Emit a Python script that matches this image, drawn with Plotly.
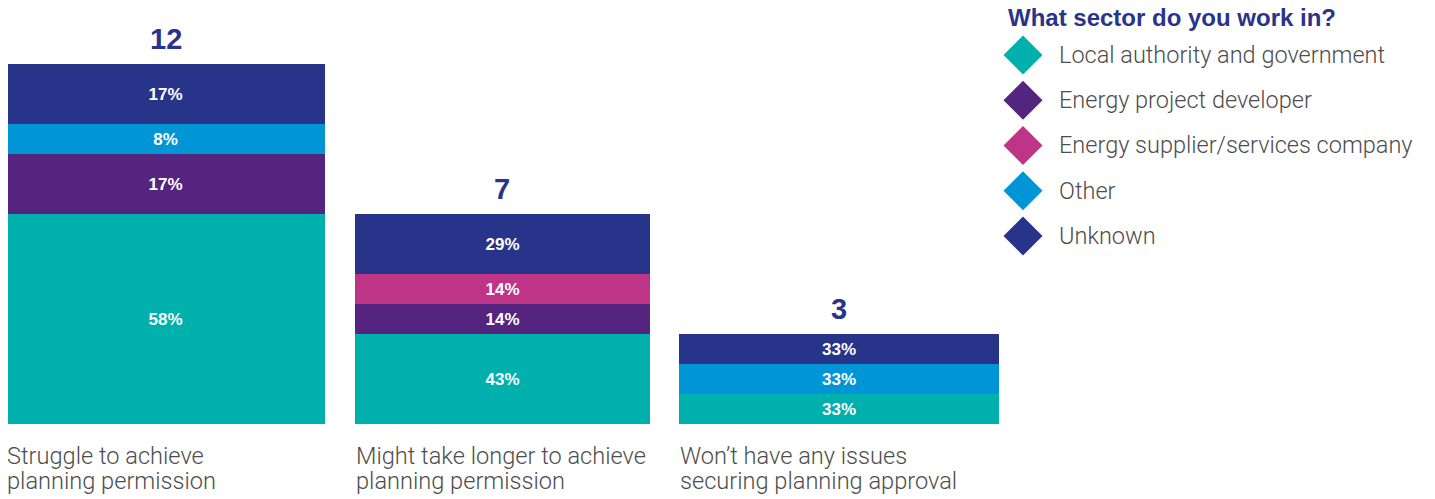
"""Stacked bars: planning permission outlook by sector."""

import plotly.graph_objects as go

# page body has an 8px margin, so the figure is drawn 8px in from the corner
OFF = 8
W, H = 1435 - OFF, 499 - OFF

categories = [
    "Struggle to achieve<br>planning permission",
    "Might take longer to achieve<br>planning permission",
    "Won’t have any issues<br>securing planning approval",
]
sectors = [
    "Local authority and government",
    "Energy project developer",
    "Energy supplier/services company",
    "Other",
    "Unknown",
]
counts = {
    "Local authority and government": [7, 3, 1],
    "Energy project developer": [2, 1, 0],
    "Energy supplier/services company": [0, 1, 0],
    "Other": [1, 0, 1],
    "Unknown": [2, 2, 1],
}
colors = {
    "Local authority and government": "#00B0AD",
    "Energy project developer": "#55247F",
    "Energy supplier/services company": "#BE3588",
    "Other": "#0096D6",
    "Unknown": "#28348A",
}
bar_widths = [0.947, 0.876, 0.95]

NAVY = "#28348A"
GREY = "#4D4D4D"
LIGHT = "Roboto, 'Liberation Sans', Arial, sans-serif"
BOLD = "'Liberation Sans', Arial, sans-serif"

# category axis: first bar centred at x=165.5 px, 336.75 px per category
X0, UNIT = 165.5, 336.75


def px(x):
    """screen x (px) -> paper"""
    return (x - OFF) / W


def py(y):
    """screen y (px, from top) -> paper"""
    return (H - (y - OFF)) / H


totals = [sum(counts[s][i] for s in sectors) for i in range(len(categories))]
xs = list(range(len(categories)))

fig = go.Figure()
for s in sectors:
    vals = counts[s]
    labels = [f"{round(100 * v / t)}%" if v else "" for v, t in zip(vals, totals)]
    fig.add_trace(
        go.Bar(
            x=xs,
            y=vals,
            width=bar_widths,
            name=s,
            marker=dict(color=colors[s], line_width=0),
            text=labels,
            textposition="inside",
            insidetextanchor="middle",
            textangle=0,
            constraintext="none",
            textfont=dict(size=17, color="white", family=BOLD, weight="bold"),
            showlegend=False,
        )
    )

# totals above bars
for i, t in enumerate(totals):
    fig.add_annotation(
        x=i, y=t, xref="x", yref="y", text=f"<b>{t}</b>", showarrow=False,
        yanchor="bottom", yshift=7,
        font=dict(size=29, color=NAVY, family=BOLD),
    )

# category labels under bars, left aligned to bar edge, one annotation per line
for i, c in enumerate(categories):
    bar_left = X0 + (i - bar_widths[i] / 2) * UNIT
    for j, line in enumerate(c.split("<br>")):
        fig.add_annotation(
            x=px(bar_left), y=py(456 + 25 * j), xref="paper", yref="paper",
            text=line, showarrow=False, xanchor="left", yanchor="middle",
            xshift=-1,
            font=dict(size=23.6, color=GREY, family=LIGHT, weight=300),
        )

# legend drawn by hand (diamonds larger than plotly's legend allows)
fig.add_annotation(
    x=px(1007), y=py(18), xref="paper", yref="paper",
    text="<b>What sector do you work in?</b>", showarrow=False,
    xanchor="left", yanchor="middle", borderpad=0,
    font=dict(size=24, color=NAVY, family=BOLD),
)
fig.add_trace(
    go.Scatter(
        x=[0] * len(sectors),
        y=list(range(len(sectors))),
        mode="markers",
        marker=dict(symbol="diamond", size=30, color=[colors[s] for s in sectors]),
        xaxis="x2", yaxis="y2", showlegend=False, hoverinfo="skip",
    )
)
for k, s in enumerate(sectors):
    fig.add_annotation(
        x=0, y=k, xref="x2", yref="y2", text=s, showarrow=False,
        xanchor="left", yanchor="middle", xshift=34,
        font=dict(size=23.5, color=GREY, family=LIGHT, weight=300),
    )

left, right = OFF, 1000
fig.update_layout(
    width=W, height=H,
    barmode="stack", bargap=0,
    margin=dict(l=0, r=0, t=0, b=0),
    paper_bgcolor="white", plot_bgcolor="white",
    xaxis=dict(
        domain=[px(left), px(right)],
        range=[(left - X0) / UNIT, (right - X0) / UNIT],
        visible=False, fixedrange=True,
    ),
    yaxis=dict(
        domain=[py(424), py(OFF)], range=[0, (424 - OFF) / 30],
        visible=False, fixedrange=True,
    ),
    # legend axes: diamonds centred at x=1023, rows 55..236 px from top
    xaxis2=dict(domain=[px(1003), px(1043)], range=[-1, 1], visible=False),
    yaxis2=dict(
        domain=[py(258.5), py(32.5)], range=[4.5, -0.5],
        visible=False, anchor="x2",
    ),
)

fig.write_html("out.html")
